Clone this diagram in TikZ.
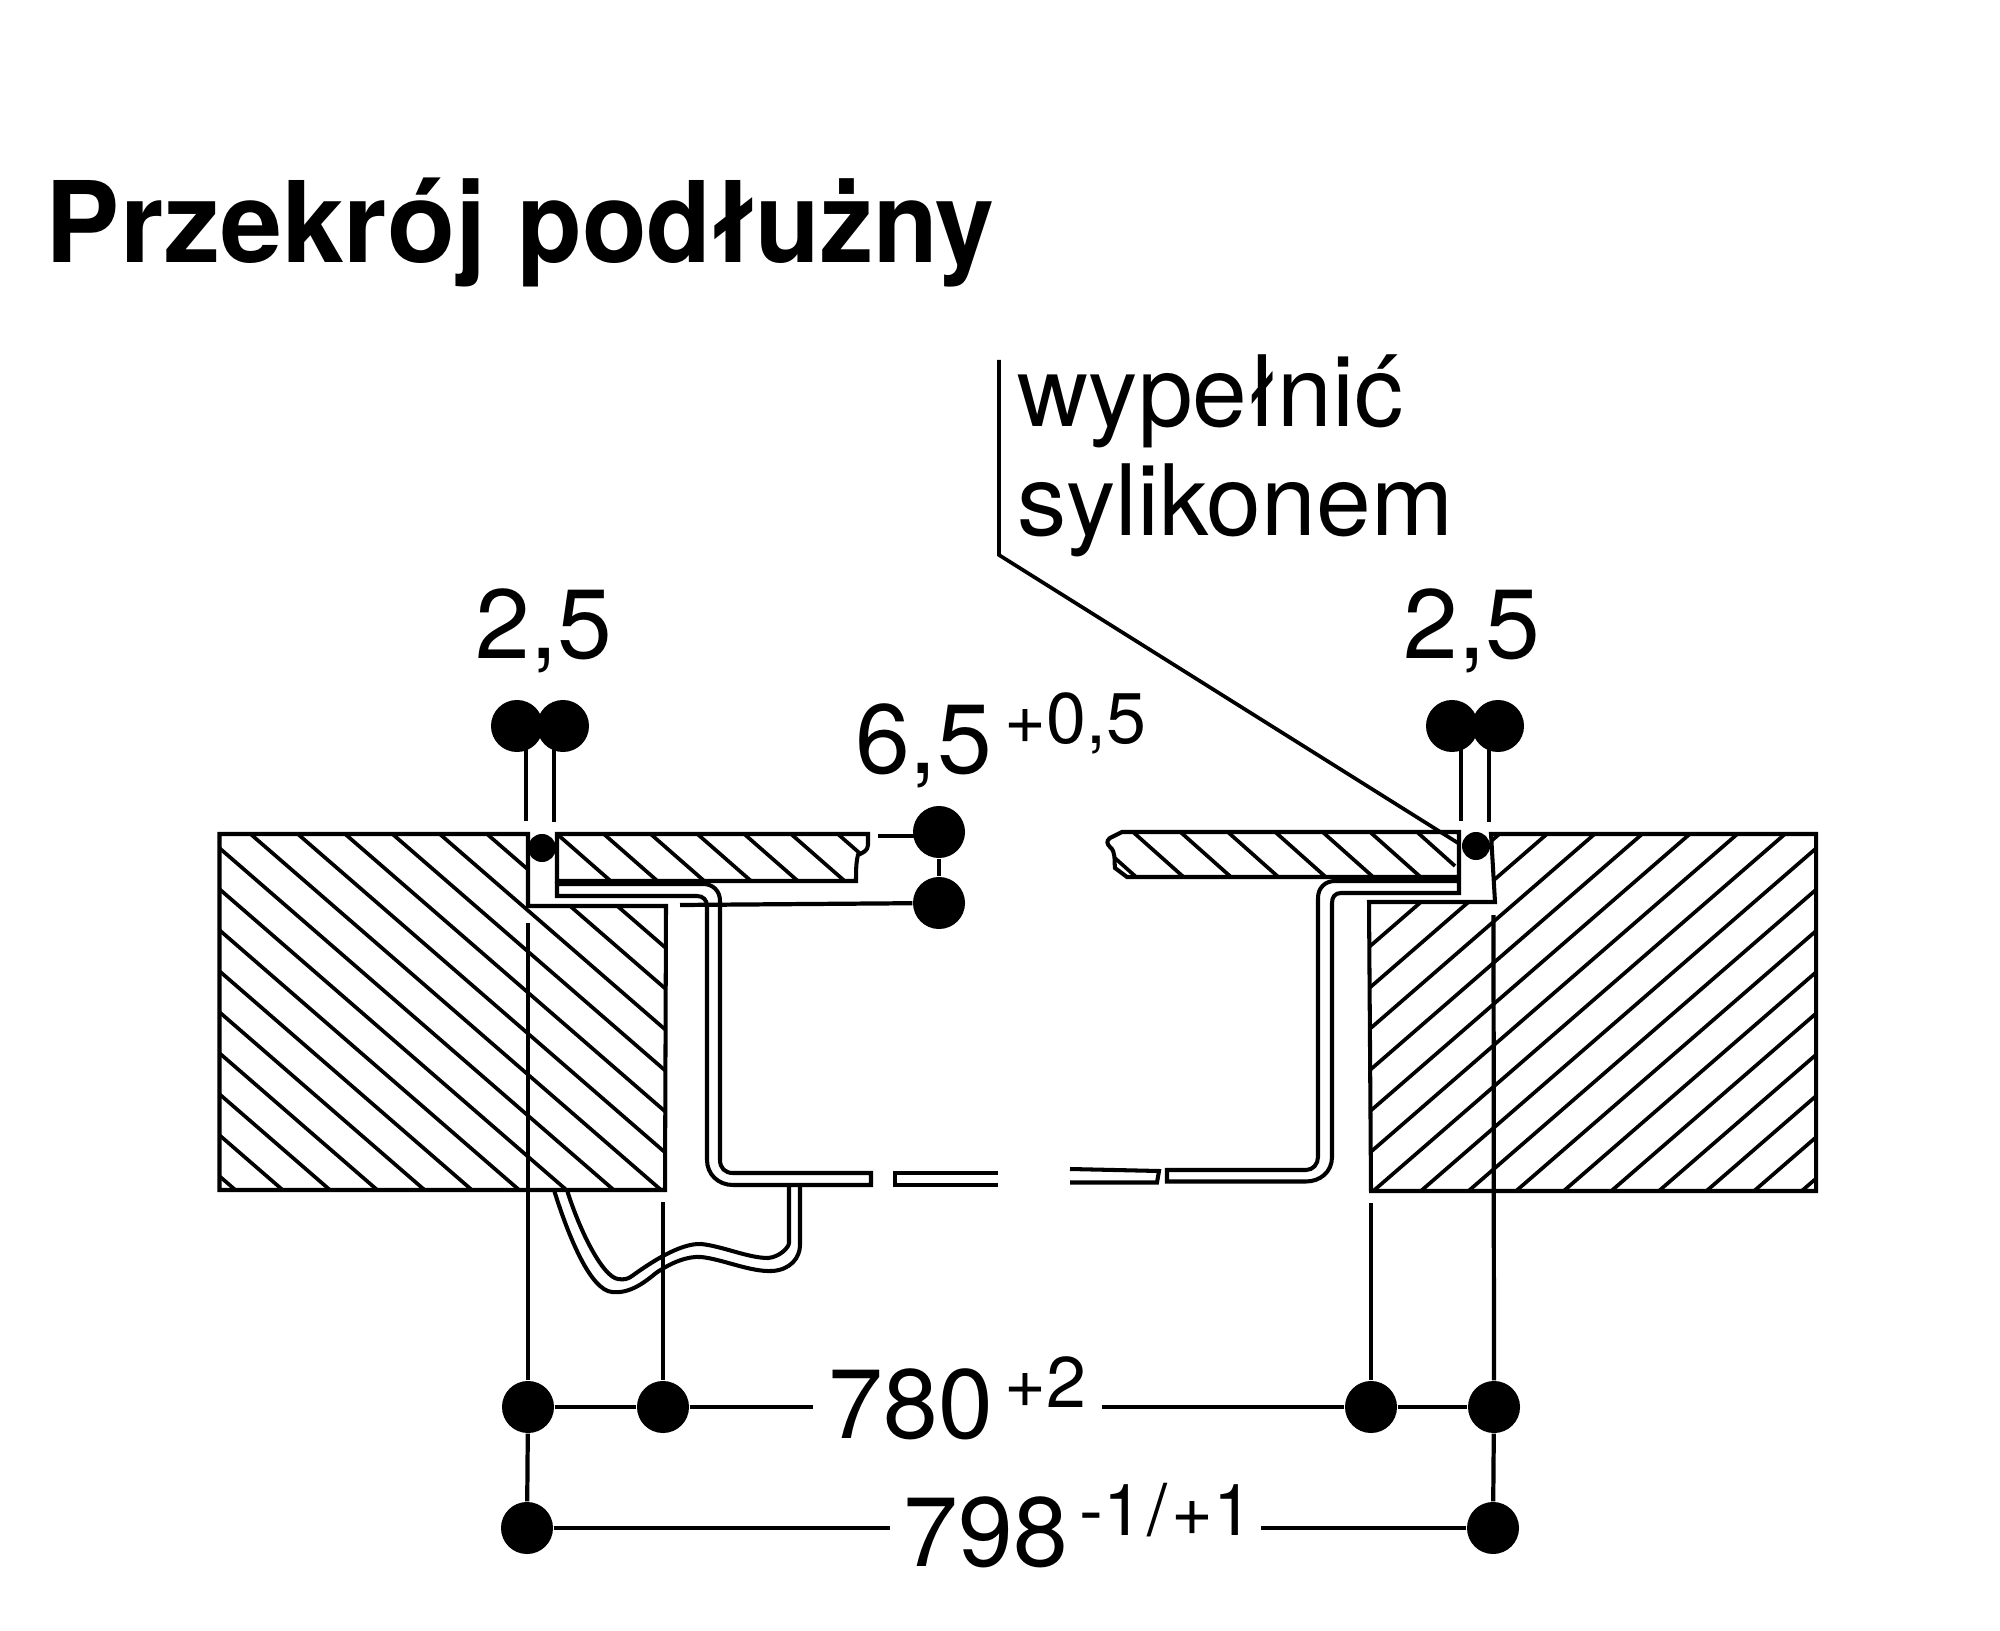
\documentclass[tikz,border=0pt]{standalone}
\usepackage{fontspec}
\setmainfont{TeX Gyre Heros}
\newfontfamily\titlefontA[BoldFeatures={FakeStretch=0.99}]{TeX Gyre Heros}
\newfontfamily\titlefontB[BoldFeatures={FakeStretch=0.94}]{TeX Gyre Heros}
\begin{document}
\begin{tikzpicture}[x=0.01cm,y=-0.01cm,
  ln/.style={line width=1.15pt,line join=miter},
  hatchline/.style={line width=1.05pt},
  dim/.style={line width=1.2pt},
  dot/.style={circle,fill=black,draw=none,minimum size=0.52cm,inner sep=0pt},
  sdot/.style={circle,fill=black,draw=none,minimum size=0.28cm,inner sep=0pt},
  bigtxt/.style={anchor=base west,inner sep=0pt,font=\fontsize{28pt}{28pt}\selectfont},
  suptxt/.style={anchor=base west,inner sep=0pt,font=\fontsize{20.4pt}{20.4pt}\selectfont},
  titletxt/.style={anchor=base west,inner sep=0pt}]
\useasboundingbox (0,0) rectangle (2000,1631);
\fill[white] (0,0) rectangle (2000,1631);

% hatching: big blocks
\begin{scope}
\clip (219.5,834) -- (528,834) -- (528,906) -- (666,906) -- (665,1190) -- (219.5,1190) -- cycle;
\foreach \k in {-9,...,6}
  \draw[hatchline] ({250.5+47.3*\k},834) -- ({250.5+47.3*\k+420},{834+420*0.867});
\end{scope}
\begin{scope}
\clip (1371,1191) -- (1369,902) -- (1495,902) -- (1491,834) -- (1816,834) -- (1816,1191) -- cycle;
\foreach \k in {-6,...,9}
  \draw[hatchline] ({1785+47.6*\k},834) -- ({1785+47.6*\k-420},{834+420*0.867});
\end{scope}
% hatching: panels
\begin{scope}
\clip (557,834) -- (868,834) -- (868,845) .. controls (868,851) and (862,853) .. (858,855) .. controls (856,862) and (856,872) .. (856,881) -- (557,881) -- cycle;
\foreach \k in {0,...,6}
  \draw[hatchline] ({557+46.8*\k},834) -- ({557+46.8*\k+80},{834+80*0.876});
\end{scope}
\begin{scope}
\clip (1122,832) -- (1459,832) -- (1459,877) -- (1127,877) -- (1115,868) -- (1113,850) -- (1107,843) -- (1110,838) -- cycle;
\foreach \k in {-1,...,5}
  \draw[hatchline] ({1133+47.4*\k},832) -- ({1133+47.4*\k+80},{832+80*0.89});
\draw[hatchline] (1417,832) -- (1455,866);
\end{scope}

% block outlines
\draw[ln] (219.5,834) -- (528,834) -- (528,906) -- (666,906) -- (665,1190) -- (219.5,1190) -- cycle;
\draw[ln] (1371,1191) -- (1369,902) -- (1495,902) -- (1491,834) -- (1816,834) -- (1816,1191) -- cycle;

% panels
\draw[ln] (557,881) -- (557,834) -- (868,834) -- (868,845) .. controls (868,851) and (862,853) .. (858,855) .. controls (856,862) and (856,872) .. (856,881) -- cycle;
\draw[ln] (1459,877) -- (1459,832) -- (1122,832) -- (1110,838) .. controls (1106,841) and (1107,844) .. (1110,847) .. controls (1116,852) and (1114,860) .. (1115,868) -- (1127,877) -- cycle;

% left frame
\draw[ln] (557,884) -- (703,884) .. controls (713,884) and (720,891) .. (720,901) -- (720,1160)
  .. controls (720,1168) and (725,1173) .. (733,1173) -- (871,1173) -- (871,1185) -- (733,1185)
  .. controls (718,1185) and (707,1174) .. (707,1160) -- (707,906)
  .. controls (707,900) and (703,896) .. (697,896) -- (557,896) -- cycle;
% middle pieces
\draw[ln] (998,1173) -- (895,1173) -- (895,1185) -- (998,1185);
\draw[ln] (1070,1169) -- (1159,1171) -- (1157,1182.5) -- (1070,1182.5);
% right frame
\draw[ln] (1459,881) -- (1335,881) .. controls (1325,881) and (1318,888) .. (1318,898) -- (1318,1157)
  .. controls (1318,1164) and (1313,1170) .. (1306,1170) -- (1167,1170) -- (1167,1181.5) -- (1306,1181.5)
  .. controls (1320,1181.5) and (1332,1172) .. (1332,1157) -- (1332,903)
  .. controls (1332,897) and (1335,893) .. (1341,893) -- (1459,893) -- cycle;

% hook
\draw[ln,line join=round] (554,1190) .. controls (568,1235) and (590,1290) .. (612,1292)
  .. controls (630,1294) and (645,1282) .. (656,1273)
  .. controls (672,1262) and (688,1256) .. (701,1257)
  .. controls (722,1259) and (750,1272) .. (772,1271)
  .. controls (790,1270) and (800,1258) .. (800,1245) -- (800,1185);
\draw[ln,line join=round] (567,1190) .. controls (580,1232) and (603,1277) .. (618,1279)
  .. controls (624,1280) and (628,1279) .. (632,1276)
  .. controls (650,1263) and (680,1243) .. (701,1244)
  .. controls (722,1246) and (748,1258) .. (768,1258)
  .. controls (780,1257) and (789,1247) .. (789,1243) -- (789,1185);

% sealing dots
\node[sdot] (sealL) at (542,848) {};
\node[sdot] (sealR) at (1476,846) {};

% dimension dots
\node[dot] (aL) at (517,726) {};
\node[dot] (bL) at (563,726) {};
\node[dot] (aR) at (1452,726) {};
\node[dot] (bR) at (1498,726) {};
\node[dot] (h1) at (939,832) {};
\node[dot] (h2) at (939,903) {};
\node[dot] (w1) at (528,1407) {};
\node[dot] (w2) at (663,1407) {};
\node[dot] (w3) at (1371,1407) {};
\node[dot] (w4) at (1494,1407) {};
\node[dot] (v1) at (527,1528) {};
\node[dot] (v2) at (1493,1528) {};

% free ends
\coordinate (eaL) at (526,821);
\coordinate (ebL) at (554,822);
\coordinate (eaR) at (1461,821);
\coordinate (ebR) at (1489,822);
\coordinate (eh1) at (878,836);
\coordinate (eh2) at (680,905);
\coordinate (ew1) at (528,923);
\coordinate (ew2) at (663,1202);
\coordinate (ew3) at (1371,1203);
\coordinate (ew4) at (1493.5,915);
\coordinate (dl1) at (813,1407);
\coordinate (dr1) at (1102,1407);
\coordinate (dl2) at (890,1528);
\coordinate (dr2) at (1261,1528);
\coordinate (ltop) at (999,360);
\coordinate (lknee) at (999,555);
\coordinate (lend) at (1458,843);

% connectors
\draw[dim] (aL -| eaL) -- (eaL);
\draw[dim] (bL -| ebL) -- (ebL);
\draw[dim] (aR -| eaR) -- (eaR);
\draw[dim] (bR -| ebR) -- (ebR);
\draw[dim] (eh1) -- (eh1 -| h1);
\draw[dim] (h1) -- (h2);
\draw[dim] (eh2) -- (h2);
\draw[dim] (ew1) -- (w1);
\draw[dim] (ew2) -- (w2);
\draw[dim] (ew3) -- (w3);
\draw[dim] (ew4) -- (w4);
\draw[dim] (w1) -- (v1);
\draw[dim] (w4) -- (v2);
\draw[dim] (w1) -- (w2);
\draw[dim] (w2) -- (dl1);
\draw[dim] (dr1) -- (w3);
\draw[dim] (w3) -- (w4);
\draw[dim] (v1) -- (dl2);
\draw[dim] (dr2) -- (v2);
\draw[line width=1.05pt,line join=miter] (ltop) -- (lknee) -- (lend);

% text
\node[titletxt] (title) at (45,263) {\fontsize{32pt}{32pt}\selectfont\bfseries{\titlefontA Przekrój} {\titlefontB podłużny}};
\node[bigtxt] (fillA) at (1017,427) {wypełnić};
\node[bigtxt] (fillB) at (1017,536) {sylikonem};
\node[bigtxt,anchor=base] (t25L) at (544,659) {2,5};
\node[bigtxt,anchor=base] (t25R) at (1472,659) {2,5};
\node[bigtxt,anchor=base] (t65) at (923.5,773) {6,5};
\node[suptxt] (t05) at (1004,743) {+0,5};
\node[bigtxt] (t780) at (828,1438) {780};
\node[suptxt] (tp2) at (1004,1407) {+2};
\node[bigtxt] (t798) at (903,1566) {798};
\node[suptxt] (tm1) at (1079,1535) {-1\kern0.06em/\kern0.06em+1};
\end{tikzpicture}
\end{document}
